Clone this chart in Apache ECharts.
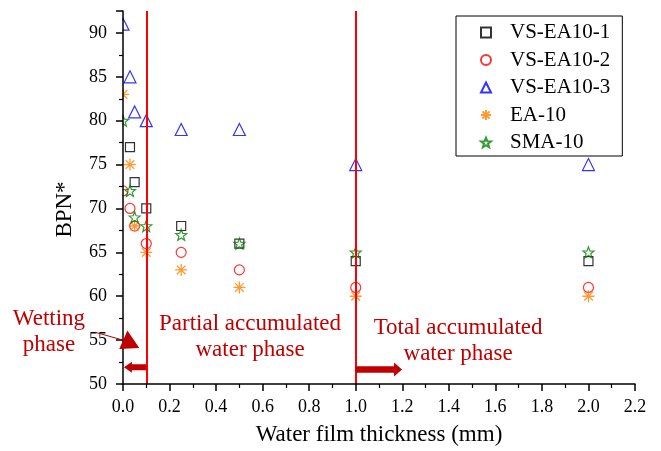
<!DOCTYPE html>
<html>
<head>
<meta charset="utf-8">
<script src="https://cdn.jsdelivr.net/npm/echarts@6/dist/echarts.min.js"></script>
<style>
html,body{margin:0;padding:0;background:#fff;overflow:hidden;}
#c{width:661px;height:451px;}
</style>
</head>
<body>
<div id="c"></div>
<script>
// ---- data ----
const seriesNames = ['VS-EA10-1', 'VS-EA10-2', 'VS-EA10-3', 'EA-10', 'SMA-10'];
const xVS1 = [0.03, 0.05, 0.1, 0.25, 0.5, 1, 2];
const yVS1 = [77, 73, 70, 68, 66, 64, 64];
const xAll = [0, 0.03, 0.05, 0.1, 0.25, 0.5, 1, 2];
const yVS2 = [72, 70, 68, 66, 65, 63, 61, 61];
const yVS3 = [91, 85, 81, 80, 79, 79, 75, 75];
const yEA10 = [83, 75, 68, 65, 63, 61, 60, 60];
const ySMA10 = [80, 72, 69, 68, 67, 66, 65, 65];
const phaseBounds = [0.1, 1.0];
const xTickLabels = ['0.0','0.2','0.4','0.6','0.8','1.0','1.2','1.4','1.6','1.8','2.0','2.2'];
const yTickLabels = ['50','55','60','65','70','75','80','85','90'];
const annotations = [
  {lines: ['Partial accumulated', 'water phase'], x: 0.546, y: 55.4},
  {lines: ['Total accumulated', 'water phase'], x: 1.44, y: 54.85},
  {lines: ['Wetting', 'phase'], x: -0.318, y: 55.9}
];

function pairs(xs, ys) { return xs.map((x, i) => [x, ys[i]]); }

// symbols
const asterisk = 'path://M0,-1L0,1M-1,0L1,0M-0.72,-0.72L0.72,0.72M-0.72,0.72L0.72,-0.72';
function starPath() {
  let p = '';
  for (let k = 0; k < 10; k++) {
    const r = k % 2 === 0 ? 1 : 0.42;
    const a = (-90 + k * 36) * Math.PI / 180;
    p += (k === 0 ? 'M' : 'L') + (r * Math.cos(a)).toFixed(3) + ',' + (r * Math.sin(a)).toFixed(3);
  }
  return 'path://' + p + 'Z';
}
const star = starPath();

const FONT = 'Liberation Serif';
const DARKRED = '#c00000';

const chart = echarts.init(document.getElementById('c'), null, {renderer: 'canvas'});

function sc(name, data, symbol, size, color, bw) {
  return {
    name: name, type: 'scatter', data: data, symbol: symbol, symbolSize: size,
    itemStyle: {color: 'rgba(255,255,255,0)', borderColor: color, borderWidth: bw || 1},
    emphasis: {disabled: true}, clip: false, z: 3
  };
}

const axisCommon = {
  z: 10,
  axisLine: {show: true, onZero: false, lineStyle: {color: '#000', width: 1.5}},
  axisTick: {show: true, inside: false, length: 7, lineStyle: {color: '#000', width: 1.5}},
  minorTick: {show: true, splitNumber: 2, length: 4, lineStyle: {color: '#000', width: 1.2}},
  splitLine: {show: false}
};

const option = {
  animation: false,
  backgroundColor: '#fff',
  grid: {left: 123, right: 26, top: 11, bottom: 63, containLabel: false},
  xAxis: Object.assign({
    type: 'value', min: 0, max: 2.2, interval: 0.2,
    name: 'Water film thickness (mm)', nameLocation: 'middle', nameGap: 39,
    nameTextStyle: {fontFamily: FONT, fontSize: 23, color: '#000'},
    axisLabel: {fontFamily: FONT, fontSize: 18, color: '#000', margin: 14,
      formatter: v => xTickLabels[Math.round(v / 0.2)] || ''}
  }, axisCommon),
  yAxis: Object.assign({
    type: 'value', min: 50, max: 92.5, interval: 5,
    name: 'BPN*', nameLocation: 'middle', nameGap: 47,
    nameTextStyle: {fontFamily: FONT, fontSize: 23, color: '#000', padding: [0, 24, 0, 0]},
    axisLabel: {fontFamily: FONT, fontSize: 18, color: '#000', margin: 16, showMaxLabel: false,
      formatter: v => { const i = Math.round((v - 50) / 5); return (Math.abs(v - 50 - i * 5) < 1e-6 && yTickLabels[i]) ? yTickLabels[i] : ''; }}
  }, axisCommon),
  legend: {
    orient: 'vertical', left: 456, top: 16,
    data: seriesNames,
    padding: [6, 12, 3, 24],
    itemWidth: 10, itemHeight: 10, itemGap: 6.5,
    borderColor: '#000', borderWidth: 1, backgroundColor: '#fff',
    textStyle: {fontFamily: FONT, fontSize: 21, color: '#000', lineHeight: 21, padding: [0, 0, 0, 14]},
    selectedMode: false
  },
  series: [
    sc(seriesNames[0], pairs(xVS1, yVS1), 'rect', 9, '#000', 1.2),
    sc(seriesNames[1], pairs(xAll, yVS2), 'circle', 10, '#ff0000', 1.2),
    sc(seriesNames[2], pairs(xAll, yVS3), 'triangle', 12, '#0000ff', 1.2),
    sc(seriesNames[3], pairs(xAll, yEA10), asterisk, 12, '#ff8000', 1.3),
    sc(seriesNames[4], pairs(xAll, ySMA10), star, 11, '#008000', 1.2),
    {
      type: 'line', data: [], silent: true, z: 4,
      markLine: {
        silent: true, symbol: 'none', label: {show: false},
        lineStyle: {color: '#ff0000', width: 2, type: 'solid'},
        data: phaseBounds.map(v => ({xAxis: v}))
      }
    }
  ]
};
chart.setOption(option);

function px(x, y) { return chart.convertToPixel({gridIndex: 0}, [x, y]); }

const g = [];
// mask left of the y axis so markers at x = 0 show only their right half
const gTop = px(0, 92.5), gBot = px(0, 50);
g.push({type: 'rect', z: 5, silent: true,
  shape: {x: gTop[0] - 14, y: gTop[1] - 8, width: 13.3, height: gBot[1] - gTop[1] + 8},
  style: {fill: '#fff'}});

annotations.forEach(a => {
  const p = px(a.x, a.y);
  g.push({
    type: 'text', x: p[0], y: p[1], z: 12,
    style: {text: a.lines.join('\n'), fontFamily: FONT, fontSize: 23, lineHeight: 26,
      fill: DARKRED, align: 'center', verticalAlign: 'middle'}
  });
});

function hArrow(x0, x1, y, shaft, headW, headL) {
  const a = px(x0, y), b = px(x1, y);
  const dir = Math.sign(b[0] - a[0]);
  const hx = b[0] - dir * headL;
  g.push({type: 'polygon', z: 12, shape: {points: [
    [a[0], a[1] - shaft / 2], [hx, a[1] - shaft / 2], [hx, a[1] - headW / 2], [b[0], a[1]],
    [hx, a[1] + headW / 2], [hx, a[1] + shaft / 2], [a[0], a[1] + shaft / 2]]},
    style: {fill: DARKRED}});
}
hArrow(0.1, 0.004, 51.9, 6, 11, 8);
hArrow(1.0, 1.199, 51.65, 6.5, 14, 8);

// wetting-phase pointer
const w0 = px(-0.12, 55.9), w1 = px(0.0, 55.0);
g.push({type: 'line', z: 12, shape: {x1: w0[0], y1: w0[1], x2: w1[0], y2: w1[1]}, style: {stroke: DARKRED, lineWidth: 1}});
const t1 = px(0.019, 56.1), t2 = px(0.07, 54.1), t3 = px(-0.016, 54.0);
g.push({type: 'polygon', z: 12, shape: {points: [t1, t2, t3]}, style: {fill: DARKRED}});

chart.setOption({graphic: g});
</script>
</body>
</html>
